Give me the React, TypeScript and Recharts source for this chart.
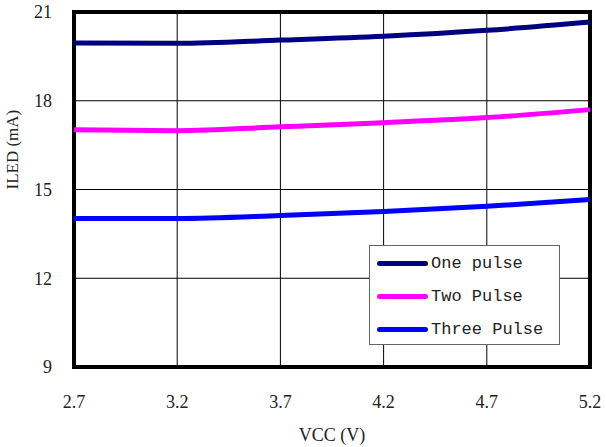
import { LineChart, Line, XAxis, YAxis, CartesianGrid, ReferenceArea } from 'recharts';

const vcc = [2.7, 3.2, 3.7, 4.2, 4.7, 5.2];
const onePulse = [19.95, 19.94, 20.05, 20.18, 20.38, 20.66];
const twoPulse = [17.02, 16.99, 17.12, 17.26, 17.43, 17.7];
const threePulse = [14.02, 14.02, 14.12, 14.26, 14.43, 14.66];
const yTicks = [9, 12, 15, 18, 21];

const series = [
  { key: 'one', name: 'One pulse', color: '#000080' },
  { key: 'two', name: 'Two Pulse', color: '#ff00ff' },
  { key: 'three', name: 'Three Pulse', color: '#0000ff' },
];

const data = vcc.map((v, i) => ({
  vcc: v,
  one: onePulse[i],
  two: twoPulse[i],
  three: threePulse[i],
}));

const font = '"Liberation Serif", "DejaVu Serif", serif';

function LegendBox() {
  return (
    <div
      style={{
        position: 'absolute',
        left: 369,
        top: 245,
        width: 191,
        height: 100,
        border: '1px solid #666',
        background: '#fff',
        boxSizing: 'border-box',
        paddingTop: 1,
      }}
    >
      {series.map((s) => (
        <div key={s.key} style={{ display: 'flex', alignItems: 'center', height: 33 }}>
          <div style={{ marginLeft: 7, width: 51, height: 5, borderRadius: 3, background: s.color }} />
          <span style={{ marginLeft: 3, fontFamily: '"Liberation Mono", monospace', fontSize: 17, color: '#222' }}>
            {s.name}
          </span>
        </div>
      ))}
    </div>
  );
}

export default function App() {
  return (
    <div style={{ position: 'absolute', left: 0, top: 0, width: 606, height: 447, background: '#fff' }}>
      <LineChart width={606} height={447} data={data} margin={{ top: 12, right: 16, left: 0, bottom: 0 }}>
        <CartesianGrid stroke="#000" strokeWidth={1} />
        <XAxis
          dataKey="vcc"
          type="number"
          domain={[2.7, 5.2]}
          ticks={vcc}
          height={80}
          axisLine={false}
          tickLine={false}
          tickMargin={22}
          tick={{ fill: '#222', fontSize: 18, fontFamily: font }}
          label={{ value: 'VCC (V)', position: 'insideBottom', offset: 6, fill: '#222', fontSize: 18, fontFamily: font }}
        />
        <YAxis
          type="number"
          domain={[9, 21]}
          ticks={yTicks}
          width={74}
          axisLine={false}
          tickLine={false}
          tickMargin={16}
          tick={{ fill: '#222', fontSize: 18, fontFamily: font }}
          label={{ value: 'ILED (mA)', angle: -90, position: 'insideLeft', offset: 12, fill: '#222', fontSize: 17, fontFamily: font }}
        />
        <ReferenceArea x1={2.7} x2={5.2} y1={9} y2={21} fill="none" stroke="#000" strokeWidth={4} />
        {series.map((s) => (
          <Line
            key={s.key}
            dataKey={s.key}
            name={s.name}
            type="monotone"
            stroke={s.color}
            strokeWidth={5}
            dot={false}
            isAnimationActive={false}
          />
        ))}
      </LineChart>
      <LegendBox />
    </div>
  );
}
